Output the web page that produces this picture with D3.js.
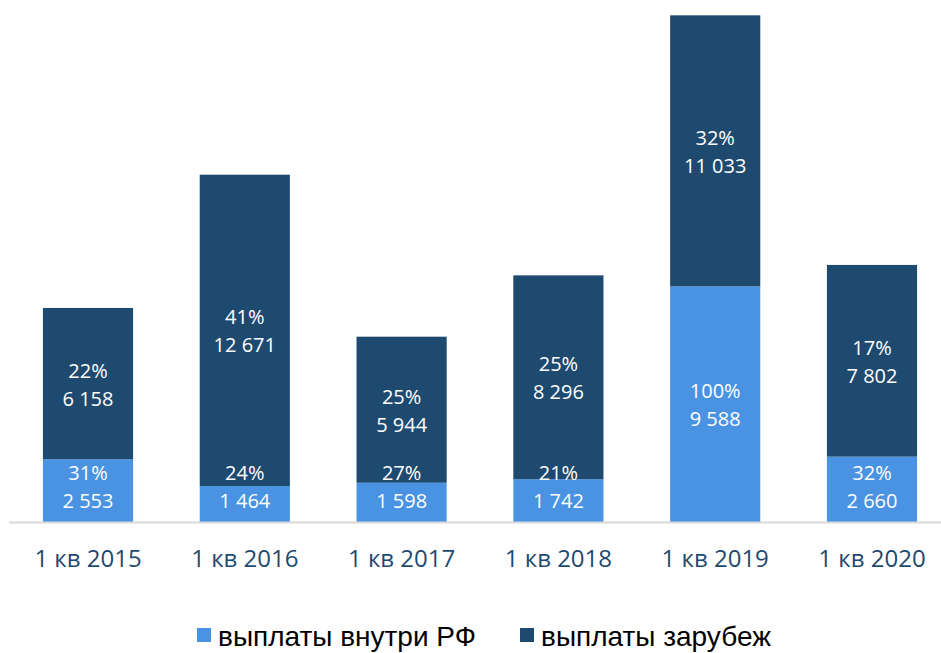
<!DOCTYPE html>
<html>
<head>
<meta charset="utf-8">
<script src="https://cdn.jsdelivr.net/npm/d3@7"></script>
<style>
  body { margin: 0; background: #fff; }
  svg { display: block; }
</style>
</head>
<body>
<script>
// data
const categories = ['1 кв 2015', '1 кв 2016', '1 кв 2017', '1 кв 2018', '1 кв 2019', '1 кв 2020'];
const domestic = [2553, 1464, 1598, 1742, 9588, 2660];
const domesticPct = [31, 24, 27, 21, 100, 32];
const abroad = [6158, 12671, 5944, 8296, 11033, 7802];
const abroadPct = [22, 41, 25, 25, 32, 17];
const seriesNames = ['выплаты внутри РФ', 'выплаты зарубеж'];
const colors = ['#4A93E3', '#1F4A70'];

const w = 941, h = 653;
const baseY = 522;

const svg = d3.select('body').append('svg')
    .attr('width', w)
    .attr('height', h);

const xScale = d3.scaleBand()
    .domain(categories)
    .range([10, 950])
    .paddingInner(0.425)
    .paddingOuter(0.21);

const yScale = d3.scaleLinear()
    .domain([0, 21000])
    .range([baseY, 6]);

const fmt = v => d3.format(',')(v).replace(/,/g, ' ');

const rows = categories.map((c, i) => ({
    cat: c,
    segs: [
        { y0: 0, y1: domestic[i], v: domestic[i], p: domesticPct[i], s: 0 },
        { y0: domestic[i], y1: domestic[i] + abroad[i], v: abroad[i], p: abroadPct[i], s: 1 }
    ]
}));

const groups = svg.selectAll('g.bar')
    .data(rows)
    .enter()
    .append('g')
    .attr('class', 'bar')
    .attr('transform', d => 'translate(' + xScale(d.cat) + ',0)');

groups.selectAll('rect')
    .data(d => d.segs)
    .enter()
    .append('rect')
    .attr('x', 0)
    .attr('width', xScale.bandwidth())
    .attr('y', d => yScale(d.y1))
    .attr('height', d => yScale(d.y0) - yScale(d.y1))
    .attr('fill', d => colors[d.s]);

// labels: two lines, centered in segment, kept inside plot at the bottom
const labelCenter = d => Math.min((yScale(d.y0) + yScale(d.y1)) / 2 + 1, baseY - 35);

const lab = groups.selectAll('text.lab')
    .data(d => d.segs)
    .enter()
    .append('text')
    .attr('class', 'lab')
    .attr('text-anchor', 'middle')
    .attr('fill', '#fff')
    .style('font-family', 'Open Sans, sans-serif')
    .style('font-size', '20px');

lab.append('tspan')
    .attr('x', xScale.bandwidth() / 2)
    .attr('y', d => labelCenter(d) - 14 + 7)
    .text(d => d.p + '%');
lab.append('tspan')
    .attr('x', xScale.bandwidth() / 2)
    .attr('y', d => labelCenter(d) + 14 + 7)
    .text(d => fmt(d.v));

// baseline
svg.append('line')
    .attr('x1', 9).attr('x2', w)
    .attr('y1', baseY + 0.5).attr('y2', baseY + 0.5)
    .attr('stroke', '#d9d9d9')
    .attr('stroke-width', 2);

// x axis labels
const xAxis = svg.append('g')
    .attr('transform', 'translate(0,' + baseY + ')')
    .call(d3.axisBottom(xScale).tickSize(0).tickPadding(28));
xAxis.select('.domain').remove();
xAxis.selectAll('text')
    .attr('fill', '#1F4A70')
    .style('font-family', 'Open Sans, sans-serif')
    .style('font-size', '24px');

// legend
const legX = [197, 520];
const leg = svg.selectAll('g.leg')
    .data(seriesNames)
    .enter()
    .append('g')
    .attr('class', 'leg')
    .attr('transform', (d, i) => 'translate(' + legX[i] + ',628)');
leg.append('rect')
    .attr('width', 14).attr('height', 14)
    .attr('fill', (d, i) => colors[i]);
leg.append('text')
    .attr('x', 21)
    .attr('y', 18)
    .style('font-family', 'Liberation Sans, Arial, sans-serif')
    .style('font-size', '28px')
    .attr('fill', '#000')
    .text(d => d);
</script>
</body>
</html>
